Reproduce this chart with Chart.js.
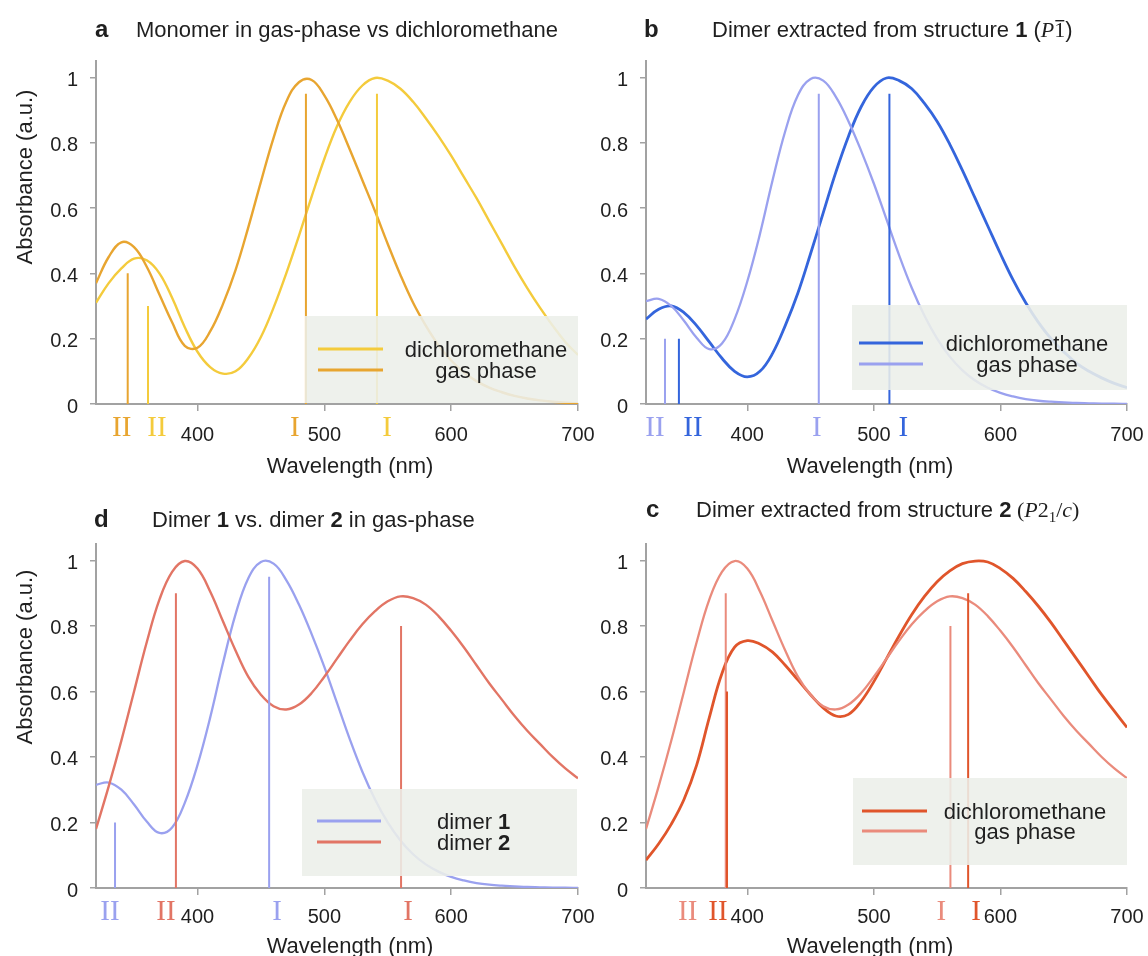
<!DOCTYPE html>
<html>
<head>
<meta charset="utf-8">
<script src="https://cdn.jsdelivr.net/npm/chart.js@4.4.1/dist/chart.umd.min.js"></script>
<style>
  html, body { margin: 0; padding: 0; background: #ffffff; }
  #figure { position: relative; width: 1148px; height: 956px; overflow: hidden; background: #ffffff; }
  #figure canvas { position: absolute; }
</style>
</head>
<body>
<div id="figure">
  <canvas id="panelA"></canvas>
  <canvas id="panelB"></canvas>
  <canvas id="panelD"></canvas>
  <canvas id="panelC"></canvas>
</div>
<script>
// ---- spectra (normalised absorbance sampled every 10 nm) ----
const wavelengths = [320,330,340,350,360,370,380,390,400,410,420,430,440,450,460,470,480,490,500,510,
                     520,530,540,550,560,570,580,590,600,610,620,630,640,650,660,670,680,690,700];

const monomerGas = [0.37,0.45,0.495,0.48,0.42,0.335,0.25,0.178,0.172,0.222,0.305,0.41,0.54,0.68,0.815,0.925,0.985,0.992,0.945,0.87,
                    0.78,0.685,0.59,0.49,0.395,0.31,0.24,0.18,0.133,0.097,0.07,0.05,0.036,0.025,0.017,0.011,0.007,0.004,0.002];
const monomerDcm = [0.31,0.37,0.415,0.445,0.44,0.40,0.325,0.235,0.16,0.113,0.093,0.10,0.14,0.205,0.295,0.40,0.515,0.635,0.75,0.85,
                    0.925,0.975,0.998,0.99,0.965,0.925,0.875,0.82,0.76,0.695,0.63,0.56,0.49,0.42,0.355,0.295,0.24,0.19,0.15];
const dimer1Gas  = [0.315,0.322,0.30,0.255,0.203,0.168,0.185,0.26,0.375,0.52,0.685,0.835,0.945,0.995,0.99,0.94,0.865,0.775,0.675,0.565,
                    0.455,0.355,0.27,0.20,0.145,0.103,0.072,0.05,0.034,0.023,0.015,0.01,0.007,0.005,0.003,0.002,0.001,0.001,0.0];
const dimer1Dcm  = [0.26,0.29,0.30,0.28,0.24,0.19,0.14,0.10,0.083,0.10,0.155,0.24,0.34,0.46,0.585,0.71,0.82,0.91,0.97,0.998,
                    0.99,0.965,0.92,0.865,0.795,0.715,0.63,0.545,0.46,0.38,0.31,0.25,0.20,0.16,0.125,0.10,0.08,0.063,0.05];
const dimer2Gas  = [0.18,0.31,0.45,0.60,0.75,0.88,0.965,0.998,0.975,0.905,0.815,0.725,0.645,0.59,0.555,0.545,0.56,0.595,0.645,0.70,
                    0.755,0.805,0.845,0.875,0.89,0.885,0.865,0.83,0.785,0.735,0.68,0.625,0.575,0.525,0.48,0.44,0.40,0.365,0.335];
const dimer2Dcm  = [0.085,0.135,0.195,0.27,0.375,0.52,0.655,0.735,0.755,0.745,0.72,0.68,0.635,0.59,0.55,0.525,0.53,0.57,0.63,0.70,
                    0.77,0.835,0.89,0.935,0.968,0.99,0.998,0.995,0.975,0.945,0.905,0.86,0.81,0.755,0.70,0.645,0.59,0.54,0.49];

// ---- computed transitions (position in nm, relative oscillator strength, band name) ----
const monomerGasBands    = [345, 485.5];  const monomerGasHeights = [0.40, 0.95];
const monomerDcmBands    = [361, 541.5];  const monomerDcmHeights = [0.30, 0.95];
const dimer1GasBands     = [335, 456.5];  const dimer1GasHeights  = [0.20, 0.95];
const dimer1DcmBands     = [346, 512.3];  const dimer1DcmHeights  = [0.20, 0.95];
const dimer2GasBands     = [383, 560.5];  const dimer2GasHeights  = [0.90, 0.80];
const dimer2DcmBands     = [384, 574.5];  const dimer2DcmHeights  = [0.60, 0.90];
const bandNames          = ['II', 'I'];

// ---- axes ----
const xTickValues = [400, 500, 600, 700];
const yTickValues = [0, 0.2, 0.4, 0.6, 0.8, 1];

const SANS  = '"Liberation Sans", Arial, Helvetica, sans-serif';
const SERIF = '"Liberation Serif", "Times New Roman", serif';
const AXIS  = '#a2a2a2';
const INK   = '#1f1f1f';

const YELLOW   = '#f4cb3c';
const ORANGE   = '#e8a530';
const LAVENDER = '#9aa1ef';
const BLUE     = '#3465dc';
const SALMON   = '#e27565';
const ROSE     = '#ea8b7c';
const VERMIL   = '#e0552b';

function curve(values, color, width) {
  return {
    data: wavelengths.map((w, i) => ({ x: w, y: values[i] })),
    borderColor: color, borderWidth: width, tension: 0.4, pointRadius: 0, fill: false
  };
}
function sticks(bands, heights, color) {
  const pts = [];
  bands.forEach((b, i) => { pts.push({ x: b, y: 0 }, { x: b, y: heights[i] }, { x: b, y: null }); });
  return { data: pts, borderColor: color, borderWidth: 2, tension: 0, pointRadius: 0, spanGaps: false, borderCapStyle: 'butt' };
}

function drawRuns(ctx, x, y, runs) {
  for (const r of runs) {
    ctx.font = r.font;
    ctx.fillText(r.text, x, y + (r.dy || 0));
    const w = ctx.measureText(r.text).width;
    if (r.overline) ctx.fillRect(x + 1, y - r.overline, w - 2, 1.4);
    x += w;
  }
  return x;
}
function runsWidth(ctx, runs) {
  let w = 0;
  for (const r of runs) { ctx.font = r.font; w += ctx.measureText(r.text).width; }
  return w;
}

const F_TITLE = '22px ' + SANS, F_TITLE_B = 'bold 22px ' + SANS, F_LETTER = 'bold 24px ' + SANS;
const F_LEG = '22px ' + SANS, F_LEG_B = 'bold 22px ' + SANS;

const panels = [
  {
    id: 'panelA', left: 0, top: 0, w: 640, h: 478, area: { l: 96, t: 61, r: 578, b: 404 }, tickPad: 12,
    series: [
      { values: monomerDcm, color: YELLOW, width: 2.4, bands: monomerDcmBands, heights: monomerDcmHeights, dx: [9, 10] },
      { values: monomerGas, color: ORANGE, width: 2.4, bands: monomerGasBands, heights: monomerGasHeights, dx: [-6, -11] }
    ],
    legend: { box: [305, 316, 578, 403], lineX: [318, 383], lineY: [349, 370], align: 'center', textX: 486,
              entries: [[{ text: 'dichloromethane', font: F_LEG }], [{ text: 'gas phase', font: F_LEG }]] },
    letter: { text: 'a', x: 95, y: 37 },
    title: { x: 136, y: 37, runs: [{ text: 'Monomer in gas-phase vs dichloromethane', font: F_TITLE }] },
    yTitle: { x: 26, y: 177 }, xTitle: { x: 350, y: 473 }
  },
  {
    id: 'panelB', left: 560, top: 0, w: 640, h: 478, area: { l: 86, t: 61, r: 567, b: 404 }, tickPad: 12,
    series: [
      { values: dimer1Dcm, color: BLUE, width: 2.8, bands: dimer1DcmBands, heights: dimer1DcmHeights, dx: [14, 14] },
      { values: dimer1Gas, color: LAVENDER, width: 2.3, bands: dimer1GasBands, heights: dimer1GasHeights, dx: [-10, -2] }
    ],
    legend: { box: [852, 305, 1127, 390], lineX: [859, 923], lineY: [343, 364], align: 'center', textX: 1027,
              entries: [[{ text: 'dichloromethane', font: F_LEG }], [{ text: 'gas phase', font: F_LEG }]] },
    letter: { text: 'b', x: 644, y: 37 },
    title: { x: 712, y: 37, runs: [
      { text: 'Dimer extracted from structure ', font: F_TITLE },
      { text: '1', font: F_TITLE_B },
      { text: ' (', font: F_TITLE },
      { text: 'P', font: 'italic 22px ' + SERIF },
      { text: '1', font: '22px ' + SERIF, overline: 17 },
      { text: ')', font: F_TITLE }
    ] },
    yTitle: null, xTitle: { x: 870, y: 473 }
  },
  {
    id: 'panelD', left: 0, top: 478, w: 640, h: 478, area: { l: 96, t: 66, r: 578, b: 410 }, tickPad: 10,
    series: [
      { values: dimer1Gas, color: LAVENDER, width: 2.3, bands: dimer1GasBands, heights: dimer1GasHeights, dx: [-5, 8] },
      { values: dimer2Gas, color: SALMON, width: 2.4, bands: dimer2GasBands, heights: dimer2GasHeights, dx: [-10, 7] }
    ],
    legend: { box: [302, 789, 577, 876], lineX: [317, 381], lineY: [821, 842], align: 'left', textX: 437,
              entries: [[{ text: 'dimer ', font: F_LEG }, { text: '1', font: F_LEG_B }],
                        [{ text: 'dimer ', font: F_LEG }, { text: '2', font: F_LEG_B }]] },
    letter: { text: 'd', x: 94, y: 527 },
    title: { x: 152, y: 527, runs: [
      { text: 'Dimer ', font: F_TITLE }, { text: '1', font: F_TITLE_B },
      { text: ' vs. dimer ', font: F_TITLE }, { text: '2', font: F_TITLE_B },
      { text: ' in gas-phase', font: F_TITLE }
    ] },
    yTitle: { x: 26, y: 657 }, xTitle: { x: 350, y: 953 }
  },
  {
    id: 'panelC', left: 560, top: 478, w: 640, h: 478, area: { l: 86, t: 66, r: 567, b: 410 }, tickPad: 10,
    series: [
      { values: dimer2Dcm, color: VERMIL, width: 2.8, bands: dimer2DcmBands, heights: dimer2DcmHeights, dx: [-9, 8] },
      { values: dimer2Gas, color: ROSE, width: 2.3, bands: dimer2GasBands, heights: dimer2GasHeights, dx: [-38, -9] }
    ],
    legend: { box: [853, 778, 1127, 865], lineX: [862, 927], lineY: [811, 831], align: 'center', textX: 1025,
              entries: [[{ text: 'dichloromethane', font: F_LEG }], [{ text: 'gas phase', font: F_LEG }]] },
    letter: { text: 'c', x: 646, y: 517 },
    title: { x: 696, y: 517, runs: [
      { text: 'Dimer extracted from structure ', font: F_TITLE },
      { text: '2', font: F_TITLE_B },
      { text: ' (', font: '22px ' + SERIF },
      { text: 'P', font: 'italic 22px ' + SERIF },
      { text: '2', font: '22px ' + SERIF },
      { text: '1', font: '15px ' + SERIF, dy: 5 },
      { text: '/', font: '22px ' + SERIF },
      { text: 'c', font: 'italic 22px ' + SERIF },
      { text: ')', font: '22px ' + SERIF }
    ] },
    yTitle: null, xTitle: { x: 870, y: 953 }
  }
];

function decorations(p) {
  return {
    id: 'decor_' + p.id,
    afterDatasetsDraw(chart) {
      const ctx = chart.ctx, xs = chart.scales.x;
      ctx.save();
      ctx.translate(-p.left, -p.top);
      // legend panel laid over the curves
      const L = p.legend, bx = L.box;
      ctx.fillStyle = 'rgba(236,239,233,0.88)';
      ctx.fillRect(bx[0], bx[1], bx[2] - bx[0], bx[3] - bx[1]);
      ctx.lineCap = 'butt';
      ctx.textBaseline = 'alphabetic';
      p.series.forEach((s, i) => {
        ctx.strokeStyle = s.color; ctx.lineWidth = 3;
        ctx.beginPath(); ctx.moveTo(L.lineX[0], L.lineY[i]); ctx.lineTo(L.lineX[1], L.lineY[i]); ctx.stroke();
        const runs = L.entries[i];
        ctx.textAlign = 'left';
        const x0 = L.align === 'center' ? L.textX - runsWidth(ctx, runs) / 2 : L.textX;
        ctx.fillStyle = INK;
        drawRuns(ctx, x0, L.lineY[i] + 8, runs);
      });
      // band labels under the axis
      ctx.font = '29px ' + SERIF;
      ctx.textAlign = 'center';
      const baseY = p.top + p.area.b + 32;
      p.series.forEach(s => {
        ctx.fillStyle = s.color;
        s.bands.forEach((b, i) => {
          ctx.fillText(bandNames[i], xs.getPixelForValue(b) + p.left + s.dx[i], baseY);
        });
      });
      // panel letter and heading
      ctx.textAlign = 'left';
      ctx.fillStyle = INK;
      ctx.font = F_LETTER;
      ctx.fillText(p.letter.text, p.letter.x, p.letter.y);
      drawRuns(ctx, p.title.x, p.title.y, p.title.runs);
      // axis titles
      ctx.font = '22px ' + SANS;
      ctx.textAlign = 'center';
      ctx.fillText('Wavelength (nm)', p.xTitle.x, p.xTitle.y);
      if (p.yTitle) {
        ctx.save();
        ctx.translate(p.yTitle.x, p.yTitle.y);
        ctx.rotate(-Math.PI / 2);
        ctx.textBaseline = 'middle';
        ctx.fillText('Absorbance (a.u.)', 0, 0);
        ctx.restore();
      }
      ctx.restore();
    }
  };
}

panels.forEach(p => {
  const cv = document.getElementById(p.id);
  cv.width = p.w; cv.height = p.h;
  cv.style.left = p.left + 'px'; cv.style.top = p.top + 'px';
  cv.style.width = p.w + 'px'; cv.style.height = p.h + 'px';
  const xAxisH = 40;
  const datasets = [];
  p.series.forEach(s => datasets.push(sticks(s.bands, s.heights, s.color)));
  p.series.slice().reverse().forEach(s => datasets.push(curve(s.values, s.color, s.width)));
  new Chart(cv, {
    type: 'line',
    data: { datasets },
    options: {
      responsive: false, animation: false, events: [],
      layout: { padding: { left: 0, top: p.area.t, right: p.w - p.area.r, bottom: p.h - p.area.b - xAxisH } },
      plugins: { legend: { display: false }, tooltip: { enabled: false }, title: { display: false } },
      scales: {
        x: {
          type: 'linear', min: 320, max: 700,
          afterBuildTicks: a => { a.ticks = xTickValues.map(v => ({ value: v })); },
          afterFit: a => { a.height = xAxisH; },
          grid: { drawOnChartArea: false, drawTicks: true, tickLength: 7, color: AXIS, lineWidth: 1.5 },
          border: { display: true, color: AXIS, width: 2 },
          ticks: { color: INK, font: { family: SANS, size: 20 }, padding: p.tickPad, maxRotation: 0, autoSkip: false,
                   callback: v => String(v) }
        },
        y: {
          type: 'linear', min: 0, max: 1.05,
          afterBuildTicks: a => { a.ticks = yTickValues.map(v => ({ value: v })); },
          afterFit: a => { a.width = p.area.l; },
          grid: { drawOnChartArea: false, drawTicks: true, tickLength: 6, color: AXIS, lineWidth: 1.5 },
          border: { display: true, color: AXIS, width: 2 },
          ticks: { color: INK, font: { family: SANS, size: 20 }, padding: 12, labelOffset: 3, autoSkip: false,
                   callback: v => String(Math.round(v * 10) / 10) }
        }
      }
    },
    plugins: [decorations(p)]
  });
});
</script>
</body>
</html>
